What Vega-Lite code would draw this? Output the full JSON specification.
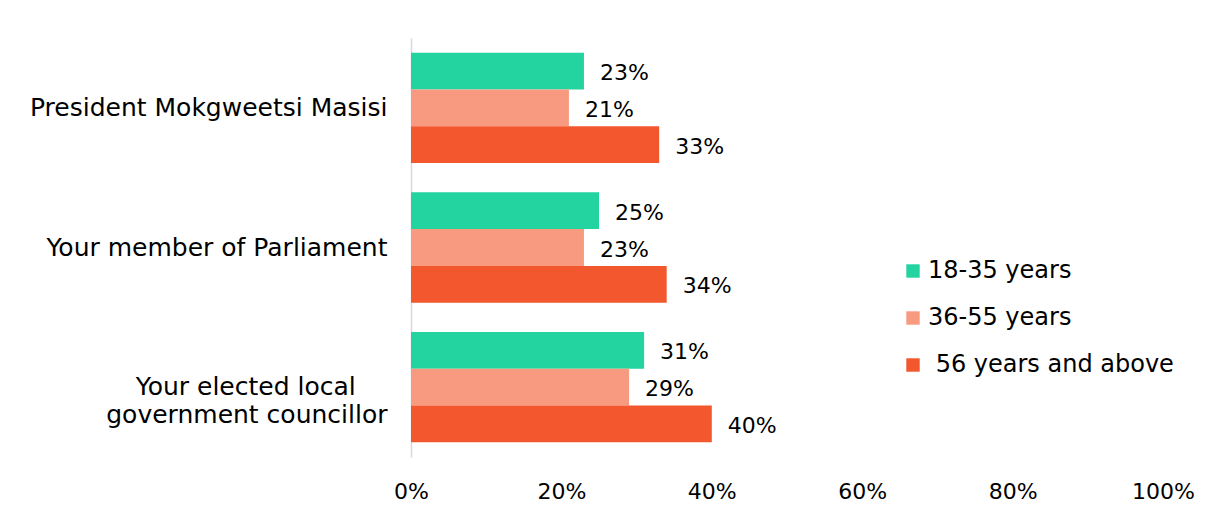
{
  "$schema": "https://vega.github.io/schema/vega-lite/v6.json",
  "width": 752,
  "height": 419,
  "autosize": "none",
  "padding": {"left": 411, "top": 38, "right": 43, "bottom": 60},
  "background": "white",
  "config": {
    "view": {"stroke": null},
    "font": "DejaVu Sans"
  },
  "data": {
    "values": [
      {"item": "President Mokgweetsi Masisi", "age": "18-35 years", "value": 0.23},
      {"item": "President Mokgweetsi Masisi", "age": "36-55 years", "value": 0.21},
      {"item": "President Mokgweetsi Masisi", "age": "56 years and above", "value": 0.33},
      {"item": "Your member of Parliament", "age": "18-35 years", "value": 0.25},
      {"item": "Your member of Parliament", "age": "36-55 years", "value": 0.23},
      {"item": "Your member of Parliament", "age": "56 years and above", "value": 0.34},
      {"item": "Your elected local government councillor", "age": "18-35 years", "value": 0.31},
      {"item": "Your elected local government councillor", "age": "36-55 years", "value": 0.29},
      {"item": "Your elected local government councillor", "age": "56 years and above", "value": 0.40}
    ]
  },
  "encoding": {
    "y": {
      "field": "item",
      "type": "nominal",
      "sort": null,
      "scale": {"paddingInner": 0.21, "paddingOuter": 0.105},
      "axis": {
        "title": null,
        "ticks": false,
        "domain": true,
        "domainColor": "#d9d9d9",
        "domainWidth": 1.5,
        "labelFontSize": 25,
        "labelColor": "#000000",
        "labelPadding": 24,
        "labelLimit": 400,
        "labelLineHeight": 28,
        "labelExpr": "datum.value == 'Your elected local government councillor' ? ['Your elected local\u00a0\u00a0\u00a0\u00a0\u200b', 'government councillor'] : datum.value"
      }
    },
    "yOffset": {
      "field": "age",
      "type": "nominal",
      "sort": ["18-35 years", "36-55 years", "56 years and above"],
      "scale": {"paddingInner": 0, "paddingOuter": 0}
    },
    "x": {
      "field": "value",
      "type": "quantitative",
      "scale": {"domain": [0, 1]},
      "axis": {
        "title": null,
        "format": ".0%",
        "values": [0, 0.2, 0.4, 0.6, 0.8, 1],
        "grid": false,
        "ticks": false,
        "domain": false,
        "labelFlush": false,
        "labelFontSize": 22,
        "labelColor": "#000000",
        "labelPadding": 24
      }
    }
  },
  "layer": [
    {
      "mark": {"type": "bar"},
      "encoding": {
        "color": {
          "field": "age",
          "type": "nominal",
          "sort": ["18-35 years", "36-55 years", "56 years and above"],
          "scale": {
            "domain": ["18-35 years", "36-55 years", "56 years and above"],
            "range": ["#23d3a0", "#f89a80", "#f2572d"]
          },
          "legend": {
            "title": null,
            "orient": "none",
            "legendX": 490,
            "legendY": 221,
            "symbolType": "square",
            "symbolSize": 180,
            "symbolStrokeWidth": 0,
            "labelFontSize": 24,
            "labelColor": "#000000",
            "labelOffset": 3,
            "rowPadding": 23,
            "labelLimit": 300,
            "labelExpr": "datum.label == '56 years and above' ? '\u200b\u00a056 years and above' : datum.label"
          }
        }
      }
    },
    {
      "mark": {"type": "text", "align": "left", "baseline": "middle", "dx": 16, "dy": 2, "fontSize": 22, "color": "#000000"},
      "encoding": {
        "text": {"field": "value", "type": "quantitative", "format": ".0%"}
      }
    }
  ]
}
